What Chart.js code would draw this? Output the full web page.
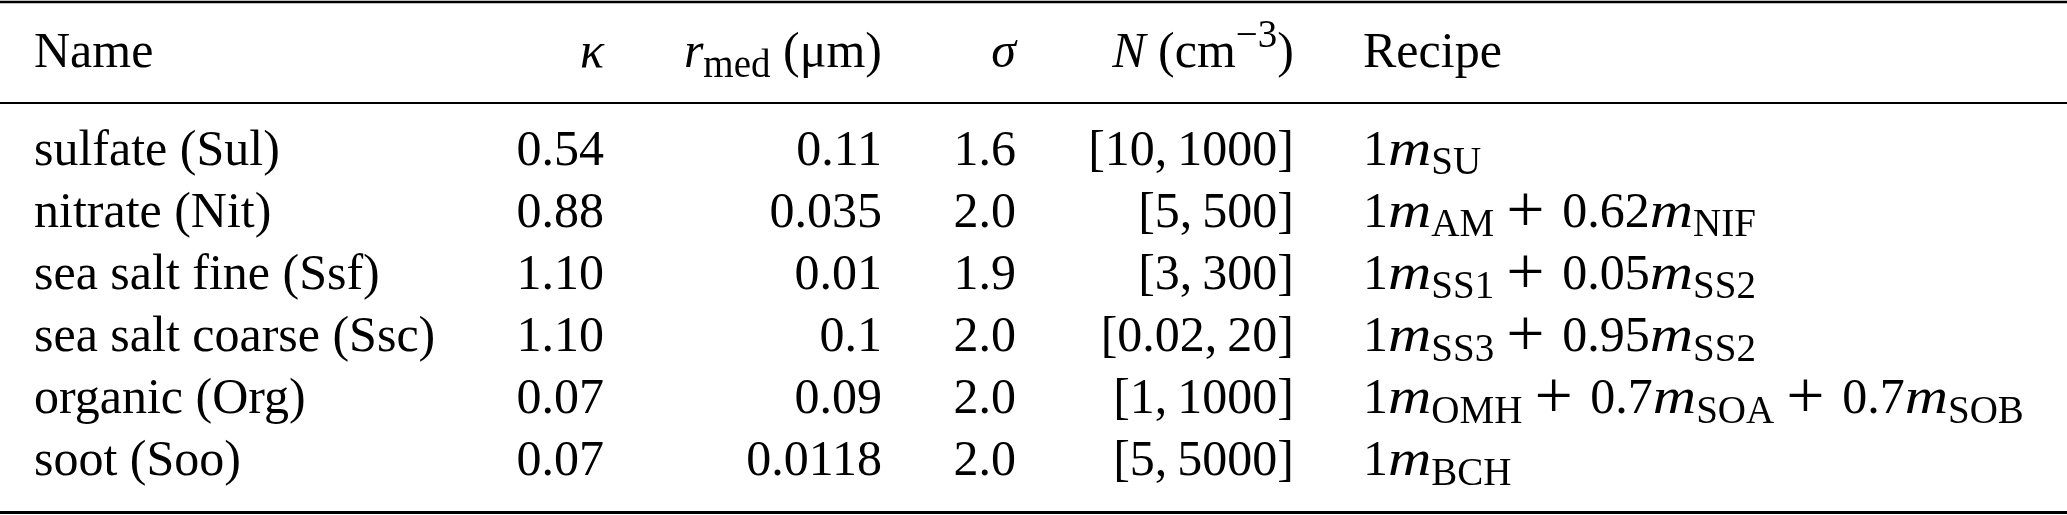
<!DOCTYPE html>
<html>
<head>
<meta charset="utf-8">
<script src="https://cdn.jsdelivr.net/npm/chart.js@4"></script>
<style>
  html, body { margin: 0; padding: 0; background: #fff; }
  #wrap { width: 2067px; height: 515px; position: relative; }
</style>
</head>
<body>
<div id="wrap"><canvas id="table"></canvas></div>
<script>
// table values
const names = ["sulfate (Sul)", "nitrate (Nit)", "sea salt fine (Ssf)", "sea salt coarse (Ssc)", "organic (Org)", "soot (Soo)"];
const kappa = [0.54, 0.88, 1.10, 1.10, 0.07, 0.07];
const rMed = [0.11, 0.035, 0.01, 0.1, 0.09, 0.0118];
const sigma = [1.6, 2.0, 1.9, 2.0, 2.0, 2.0];
const nMin = [10, 5, 3, 0.02, 1, 5];
const nMax = [1000, 500, 300, 20, 1000, 5000];
const recipeCoef = [[1], [1, 0.62], [1, 0.05], [1, 0.95], [1, 0.7, 0.7], [1]];
const recipeTracer = [["SU"], ["AM", "NIF"], ["SS1", "SS2"], ["SS3", "SS2"], ["OMH", "SOA", "SOB"], ["BCH"]];
// *x* = italic, _{x} = subscript, ^{x} = superscript
const headers = ["Name", "*κ*", "*r*_{med} (μm)", "*σ*", "*N* (cm^{−3})", "Recipe"];

// layout
const colX = [34, 604, 882, 1016, 1294, 1363];
const colAlign = ["left", "right", "right", "right", "right", "left"];
const headerRow = -1.58;
const ruleRows = [-2.63, -1.0, 5.605];
const ruleWidth = [2.5, 2, 3];

const FONT = '"Liberation Serif", "Times New Roman", serif';
const SIZE = 50;
const SMALL = 39;
const SUB_SHIFT = 9.5;
const SUP_SHIFT = -20;
const OP_BOX = 68;
const OP_SIZE = 68;
const mathStretch = { m: 1.2 };

const rowCells = names.map((n, i) => [
  n,
  kappa[i].toFixed(2),
  String(rMed[i]),
  sigma[i].toFixed(1),
  "[" + nMin[i] + ",\u2009" + nMax[i] + "]",
  recipeCoef[i].map((c, j) => c + "*m*_{" + recipeTracer[i][j] + "}").join("+"),
]);

const cellPoints = [];
headers.forEach((h, c) => cellPoints.push({ x: colX[c], y: headerRow, text: h, align: colAlign[c] }));
rowCells.forEach((cells, r) =>
  cells.forEach((t, c) => cellPoints.push({ x: colX[c], y: r, text: t, align: colAlign[c] }))
);

function parse(src) {
  const segs = [];
  let italic = false;
  let buf = "";
  const push = () => {
    if (buf) segs.push({ text: buf, italic: italic, level: 0 });
    buf = "";
  };
  let i = 0;
  while (i < src.length) {
    const c = src[i];
    if (c === "*") {
      push();
      italic = !italic;
      i++;
    } else if ((c === "_" || c === "^") && src[i + 1] === "{") {
      push();
      const end = src.indexOf("}", i);
      segs.push({ text: src.slice(i + 2, end), italic: false, level: c === "_" ? -1 : 1 });
      i = end + 1;
    } else if (c === "+") {
      push();
      segs.push({ text: "+", op: true, level: 0 });
      i++;
    } else {
      buf += c;
      i++;
    }
  }
  push();
  return segs;
}

function segFont(s) {
  if (s.op) return OP_SIZE + "px " + FONT;
  return (s.italic ? "italic " : "") + (s.level ? SMALL : SIZE) + "px " + FONT;
}

function segWidth(ctx, s) {
  if (s.op) return OP_BOX;
  ctx.font = segFont(s);
  const w = ctx.measureText(s.text).width;
  return s.italic && mathStretch[s.text] ? w * mathStretch[s.text] : w;
}

function drawRich(ctx, src, x, y, align) {
  const segs = parse(src);
  const total = segs.reduce((a, s) => a + segWidth(ctx, s), 0);
  let cx = align === "right" ? x - total : x;
  ctx.fillStyle = "#000";
  ctx.textBaseline = "alphabetic";
  segs.forEach((s) => {
    const w = segWidth(ctx, s);
    ctx.font = segFont(s);
    if (s.op) {
      ctx.textAlign = "center";
      ctx.fillText("+", cx + w * 0.46, y + 5);
    } else {
      ctx.textAlign = "left";
      const dy = s.level < 0 ? SUB_SHIFT : s.level > 0 ? SUP_SHIFT : 0;
      const k = s.italic && mathStretch[s.text] ? mathStretch[s.text] : 1;
      ctx.save();
      ctx.translate(cx, y + dy);
      ctx.scale(k, 1);
      ctx.fillText(s.text, 0, 0);
      ctx.restore();
    }
    cx += w;
  });
}

const cellText = {
  id: "cellText",
  afterDatasetsDraw(chart) {
    const ctx = chart.ctx;
    const meta = chart.getDatasetMeta(0);
    ctx.save();
    meta.data.forEach((pt, i) => {
      const cell = cellPoints[i];
      drawRich(ctx, cell.text, pt.x, pt.y, cell.align);
    });
    ctx.restore();
  },
};

const ruleSets = ruleRows.map((y, k) => ({
  type: "line",
  data: [{ x: 0, y: y }, { x: 2067, y: y }],
  borderColor: "#000",
  borderWidth: ruleWidth[k],
  pointRadius: 0,
  showLine: true,
}));

document.fonts.load("50px " + FONT).then(() => {
  new Chart(document.getElementById("table"), {
    type: "scatter",
    data: {
      datasets: [{ data: cellPoints, pointRadius: 0, pointHoverRadius: 0 }, ...ruleSets],
    },
    options: {
      responsive: true,
      maintainAspectRatio: false,
      animation: false,
      devicePixelRatio: 1,
      events: [],
      layout: { padding: 0 },
      plugins: { legend: { display: false }, tooltip: { enabled: false } },
      scales: {
        x: { type: "linear", display: false, min: 0, max: 2067 },
        y: { type: "linear", display: false, reverse: true, min: -2.661, max: 5.645 },
      },
    },
    plugins: [cellText],
  });
});
</script>
</body>
</html>
